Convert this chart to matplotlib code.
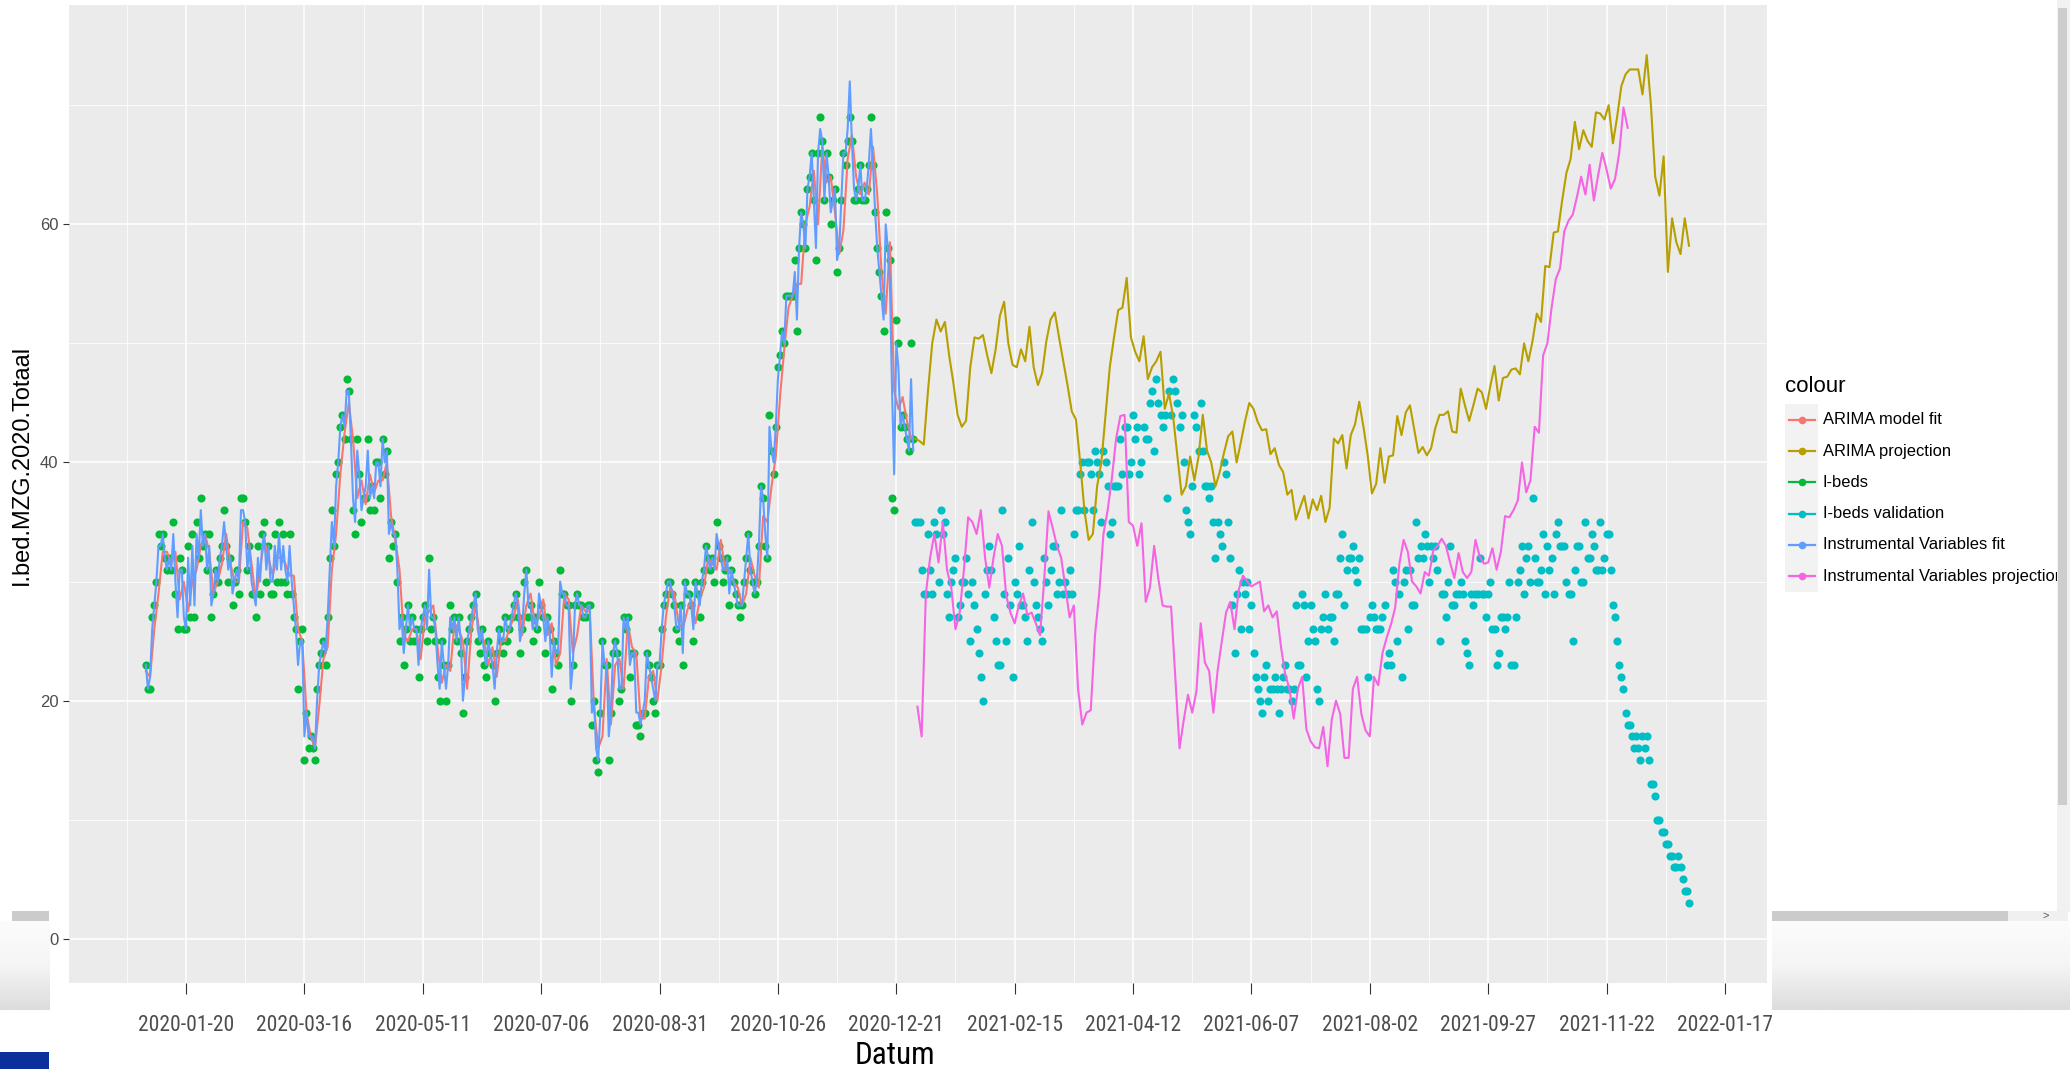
import numpy as np
import pandas as pd
import matplotlib
matplotlib.use('Agg')
import matplotlib.pyplot as plt
import matplotlib.dates as mdates
from matplotlib import font_manager as fm
from matplotlib.patches import Rectangle
from matplotlib.lines import Line2D

# ---------------- data ----------------
series_names = ["ARIMA model fit", "ARIMA projection", "I-beds", "I-beds validation",
                "Instrumental Variables fit", "Instrumental Variables projection"]
series_colors = ["#F8766D", "#B79F00", "#00BA38", "#00BFC4", "#619CFF", "#F564E3"]

tick_labels = ["2020-01-20", "2020-03-16", "2020-05-11", "2020-07-06", "2020-08-31",
               "2020-10-26", "2020-12-21", "2021-02-15", "2021-04-12", "2021-06-07",
               "2021-08-02", "2021-09-27", "2021-11-22", "2022-01-17"]
y_ticks = [0, 20, 40, 60]

ibeds_start = "2020-01-01"   # daily
ibeds = [23,21,21,27,28,30,34,33,34,32, 31,32,31,35,29,26,32,31,26,26,
         33,27,34,27,35,32,37,33,34,31, 34,27,29,31,30,32,33,36,33,30,
         32,28,30,31,29,37,37,35,31,33, 29,29,27,33,29,34,35,30,33,29,
         29,34,30,35,30,34,30,29,34,29, 27,26,21,25,26,15,19,16,17,16,
         15,21,23,24,25,23,27,32,36,33, 39,40,43,44,42,47,46,42,36,34,
         42,39,35,37,37,42,36,38,36,40, 40,37,42,39,41,32,35,33,34,30,
         25,27,23,26,28,25,27,25,26,22, 26,27,28,25,32,26,27,25,22,20,
         25,23,20,23,28,26,27,25,27,24, 19,22,25,26,27,28,29,25,24,26,
         23,22,25,24,23,20,24,26,25,24, 27,25,26,27,28,29,27,24,26,30,
         31,27,28,25,27,26,30,28,27,24, 27,26,21,25,24,23,31,29,29,28,
         28,20,23,28,29,28,28,27,27,28, 28,18,20,15,14,19,25,23,23,15,
         19,24,25,24,20,21,27,26,27,22, 24,24,18,18,17,19,19,24,23,22,
         20,19,23,23,26,28,29,30,30,29, 28,26,25,28,23,30,29,29,28,25,
         30,29,27,30,31,33,32,31,32,30, 35,33,32,30,31,32,28,31,30,29,
         28,27,28,30,32,34,31,30,29,30, 33,38,37,33,32,44,41,39,43,48,
         49,51,50,54,54,54,54,57,51,58, 61,60,58,63,64,66,62,57,66,69,
         67,62,66,64,60,62,63,56,58,62, 66,65,67,69,67,62,62,63,65,62,
         62,63,65,69,65,61,58,56,54,51, 61,58,57,37,36,52,50,43,44,43,
         42,41,50,42]

arima_fit_start = "2020-01-01"   # every 2 days
arima_fit = [22.5,22,26,29,32.5,32.5,31.5,32.5,28.5,30,
             27.5,30,31,33,34,32.5,29,30,31.5,34,
             31.5,30,30,35,34.5,31.5,28.5,31,33.5,32,
             30.5,32,32,31.5,30.5,30.5,26,25,19,17,
             16,19.5,23.5,24.5,31,34,39,42.5,45,42,
             37,38.5,36.5,39,37.5,38.5,38.5,40,35.5,33.5,
             31,25.5,25,26,26,23.5,27,27.5,28,24.5,
             21.5,23,22.5,26.5,26,25,21,26,28,25.5,
             25,23,24.5,22,25,25,26,27,28.5,25.5,
             28,29,26.5,27,28.5,25.5,26.5,23,24,29,
             28.5,24,25.5,28,27.5,27.5,19.5,16,17,23.5,
             18,23,23.5,21,26.5,24.5,24,18.5,18.5,22,
             22.5,20,23,27,29.5,29,26.5,26,27.5,28.5,
             26.5,28.5,29.5,32,31.5,31,33.5,31,31,30,
             29.5,28,29,32,30.5,29.5,35.5,35,38,40.5,
             45.5,49.5,53,54,55,55,60,61.5,64.5,60,
             66.5,63.5,64,61,57.5,59.5,65.5,67.5,64,62.5,
             63.5,62.5,66.5,62.5,56,52.5,58.5,46,44.5,45.5,
             43.5,42]

iv_fit_start = "2020-01-01"   # daily
iv_fit = [23,21,22,26,28,30,33,33,34,32, 31,32,31,34,30,27,31,31,27,26,
          32,28,33,28,34,32,36,33,34,31, 33,28,29,31,30,32,33,35,33,31,
          32,29,30,31,30,36,36,35,31,33, 30,29,28,32,30,33,34,31,33,30,
          30,33,31,34,31,33,31,30,33,30, 28,26,23,25,25,17,19,17,17,17,
          16,20,23,24,25,24,27,31,35,33, 38,40,43,44,43,46,46,42,37,35,
          41,39,36,37,38,41,37,38,37,40, 40,38,42,40,41,34,35,34,34,31,
          26,27,24,26,28,26,27,26,26,23, 26,27,28,26,31,27,27,26,23,21,
          25,23,21,23,27,26,27,25,27,25, 20,22,25,26,27,28,29,26,25,26,
          24,23,25,24,23,21,24,26,25,25, 27,26,26,27,28,29,28,25,26,29,
          31,28,28,26,27,26,29,28,27,25, 27,26,22,25,24,24,30,29,29,28,
          28,21,23,28,29,28,28,27,27,28, 28,19,20,16,15,19,25,23,23,17,
          19,24,25,24,21,21,27,26,27,23, 24,24,19,19,18,19,20,24,23,22,
          21,20,23,23,26,28,29,30,30,29, 28,26,26,28,24,30,29,29,28,26,
          30,29,28,30,31,33,32,31,32,31, 34,33,32,31,31,32,29,31,30,29,
          28,28,28,30,32,34,31,30,29,30, 33,38,37,34,32,43,41,40,43,47,
          49,51,50,54,54,54,54,56,52,58, 61,60,58,63,64,66,62,58,66,68,
          67,62,66,64,61,62,63,57,58,62, 66,66,68,72,67,63,62,63,65,62,
          62,63,65,68,65,61,58,56,54,52, 60,58,55,46,39,50,48,43,44,43,
          42,41,47,41]

arima_proj_start = "2020-12-30"   # every 2 days
arima_proj = [42,41.8,41.5,46,50,52,51,51.8,49,46.7,
              44,43,43.5,48,50.5,50.4,50.7,49,47.5,49.5,
              52.3,53.5,50,48.2,48,49.5,48.5,51.4,48,46.5,
              47.5,50.2,52,52.6,50.5,48.5,46.5,44.3,43.6,40,
              36,33.5,34,38,40,44,48,50.5,52.8,53,
              55.5,50.5,49.3,48.5,50.6,47,48,48.5,49.3,44.5,
              45.8,43.8,40.5,37.3,38,40.5,38.5,40.5,44,41,
              40,38,39.2,40.8,42.2,42.6,40,41.7,43.5,45,
              44.5,43.4,42.7,42.8,40.7,41.2,39.8,39.2,37.3,37.7,
              35.2,36.2,37.2,35.3,36.9,36,37.2,35,36.2,42,
              41.6,42.3,39.5,42.3,43.2,45.1,43,40.6,37.4,38.2,
              41.2,38.3,40.5,40.6,43.9,42.3,44.2,44.8,42.8,40.8,
              41.3,40.6,41.2,42.9,44,44,44.3,42.6,42.5,46.2,
              44.8,43.5,44.8,46.2,45.9,44.5,46.4,48.1,45.2,47.1,
              47.2,47.8,47.9,47.4,50,48.5,50.2,52.5,51.8,56.5,
              56.4,59.3,59.4,62,64.3,65.5,68.6,66.3,67.9,67,
              66.5,69.4,69.3,68.8,70,66.8,69,71.6,72.6,73,
              73,73,70.9,74.2,70,64,62.4,65.7,56,60.5,
              58.5,57.5,60.5,58.2]

validation_start = "2020-12-30"   # daily
validation = [35,35,35,31,29,29,34,31,29,35, 34,30,36,34,35,29,27,30,31,32,
              27,28,30,30,32,29,25,30,28,26, 24,22,20,29,31,33,31,27,25,23,
              23,36,29,25,32,28,22,30,29,33, 28,28,27,25,31,35,30,28,27,26,
              25,32,30,28,31,33,33,29,30,36, 29,30,29,31,29,34,36,36,39,40,
              36,40,40,39,36,41,40,39,35,41, 40,38,34,35,38,38,38,42,39,43,
              43,39,40,44,42,43,39,40,43,42, 42,45,46,41,47,45,44,43,44,37,
              46,44,47,46,45,43,44,40,36,35, 34,38,44,43,41,45,41,38,38,37,
              38,35,32,35,34,33,40,39,35,32, 28,24,29,31,26,30,29,30,26,28,
              24,22,21,20,19,22,23,20,21,21, 22,21,19,21,22,23,21,21,20,21,
              28,23,23,29,28,22,25,28,26,25, 21,20,26,27,29,26,27,27,25,29,
              29,32,34,28,31,32,32,33,31,30, 32,26,26,26,22,27,28,27,26,26,
              26,27,28,23,24,23,31,30,25,29, 22,30,31,26,31,28,28,35,32,33,
              32,34,33,30,33,32,33,31,25,29, 29,27,30,33,28,28,29,29,30,29,
              25,24,23,29,28,29,29,32,29,29, 27,29,30,26,26,23,24,27,27,26,
              27,30,23,23,27,30,31,33,29,32, 33,30,37,32,30,30,31,34,29,33,
              31,32,29,34,35,33,33,33,30,29, 29,25,31,33,33,30,30,35,32,32,
              34,33,31,31,35,31,32,34,34,31, 28,27,25,23,22,21,19,18,18,17,
              16,17,16,15,17,16,17,15,13,13, 12,10,10,9,9,8,8,7,7,6,
              6,7,6,5,4,4,3]

iv_proj_start = "2020-12-31"   # every 2 days
iv_proj = [19.5,17,29,32,34,31.6,35,31,29.5,26,
           27.4,31,35.4,35,34,36,32,29.5,32,34,
           33,28.8,27.4,26.5,28,29,27.2,27.4,26.5,25.5,
           30.2,35.9,34.5,33,32,29.5,27,28,21,18,
           19,19.2,25.5,29,34,36,38.7,42,43.9,44,
           35,34.7,33,34.9,28.3,29.5,33,30.2,28,27.9,
           27.9,22,16,18.4,20.5,19,20.8,26.5,23.2,22.5,
           19,22.5,25,27.4,28.3,26,29.3,30.5,30,29.6,
           29.8,30,27.5,28,27,27.5,24.5,22.2,21,18.5,
           21,22,17.6,16.6,16.1,16,17.8,14.5,18.4,20,
           18.9,15.2,15.2,21,22,18.9,17.5,17,22,21.3,
           24,25.3,26.4,27.8,31.5,33.5,32.5,30,29.6,29,
           30.8,30.5,32.6,33,33.6,33,31.6,30.3,32.4,30.8,
           30.3,30.8,33.5,32.1,31.5,31.6,32.8,31,32.5,35.5,
           35.4,36,36.8,40,37.5,38.5,43,42.5,49,50,
           53,55.4,56.3,59.4,60.3,60.8,62.3,64,62.5,65,
           62,64.1,66,64.6,63,63.8,66,69.8,68.1]

# ---------------- fonts ----------------
SANS = ["Liberation Sans", "DejaVu Sans"]


def pick_narrow():
    prefs = ["liberation sans narrow", "arial narrow", "nimbus sans narrow",
             "roboto condensed", "noto sans", "open sans", "dejavu sans"]
    best = None
    for e in fm.fontManager.ttflist:
        nm = e.name.lower()
        if e.style != "normal" or str(e.weight) not in ("400", "normal", "regular", "book"):
            continue
        st = str(e.stretch).lower()
        fn = e.fname.lower()
        narrow = ("narrow" in nm or "condensed" in nm or st in ("condensed", "semi-condensed")
                  or ("condensed" in fn and "semicondensed" not in fn and "extra" not in fn))
        if not narrow or "extra" in st or "ultra" in st:
            continue
        rank = len(prefs)
        for i, p in enumerate(prefs):
            if nm.startswith(p):
                rank = i
                break
        if best is None or rank < best[0]:
            best = (rank, e.fname)
    return best[1] if best else None


narrow_file = pick_narrow()


def narrow_fp(size, fallback_size):
    if narrow_file:
        return fm.FontProperties(fname=narrow_file, size=size)
    return fm.FontProperties(family=SANS, size=fallback_size)


# ---------------- figure ----------------
W, H, DPI = 2070, 1069, 100
fig = plt.figure(figsize=(W / DPI, H / DPI), dpi=DPI, facecolor="white")


def fx(px):
    return px / W


def fy(py):
    return 1 - py / H


ax = fig.add_axes([fx(69), fy(983), fx(1767) - fx(69), fy(5) - fy(983)])
ax.set_facecolor("#EBEBEB")
for s in ax.spines.values():
    s.set_visible(False)

d_ib = pd.date_range(ibeds_start, periods=len(ibeds), freq="D").values
d_af = pd.date_range(arima_fit_start, periods=len(arima_fit), freq="2D").values
d_iv = pd.date_range(iv_fit_start, periods=len(iv_fit), freq="D").values
d_ap = pd.date_range(arima_proj_start, periods=len(arima_proj), freq="2D").values
d_va = pd.date_range(validation_start, periods=len(validation), freq="D").values
d_ip = pd.date_range(iv_proj_start, periods=len(iv_proj), freq="2D").values

c = dict(zip(series_names, series_colors))
LW = 1.5
ax.scatter(d_ib, ibeds, s=34, color=c["I-beds"], linewidths=0, zorder=3)
ax.scatter(d_va, validation, s=34, color=c["I-beds validation"], linewidths=0, zorder=3)
ax.plot(d_af, arima_fit, color=c["ARIMA model fit"], lw=LW, zorder=4)
ax.plot(d_iv, iv_fit, color=c["Instrumental Variables fit"], lw=LW, zorder=5)
ax.plot(d_ap, arima_proj, color=c["ARIMA projection"], lw=LW, zorder=4)
ax.plot(d_ip, iv_proj, color=c["Instrumental Variables projection"], lw=LW, zorder=4)

ref = mdates.date2num(np.datetime64("2020-01-20"))
ax.set_xlim(ref - 55.35, ref + 747.9)
ax.set_ylim(-3.7, 78.41)

major = pd.to_datetime(tick_labels).values
minor = (pd.to_datetime(tick_labels) - pd.Timedelta(days=28)).values
ax.set_xticks(major)
ax.set_xticklabels(tick_labels)
ax.set_xticks(minor, minor=True)
ax.set_yticks(y_ticks)
ax.set_yticklabels([str(v) for v in y_ticks])
ax.set_yticks([10, 30, 50, 70], minor=True)
ax.set_axisbelow(True)
ax.grid(which="major", color="white", lw=1.1)
ax.grid(which="minor", color="white", lw=0.55)
ax.tick_params(axis="x", which="major", length=8, width=0.8, color="#333333",
               pad=15, labelcolor="#4D4D4D")
ax.tick_params(axis="y", which="major", length=4.5, width=0.8, color="#333333",
               pad=3, labelsize=12, labelcolor="#4D4D4D")
ax.tick_params(which="minor", length=0)
for lbl in ax.get_xticklabels():
    lbl.set_fontproperties(narrow_fp(15.5, 12.5))
for lbl in ax.get_yticklabels():
    lbl.set_fontfamily(SANS)

fig.text(fx(22), fy(465), "I.bed.MZG.2020.Totaal", rotation=90, ha="center", va="center",
         fontsize=17, family=SANS, color="black")
fig.text(fx(895), fy(1056), "Datum", ha="center", va="center",
         fontproperties=narrow_fp(22.5, 19.5), color="black")

# ---------------- legend (ggplot style) ----------------
fig.text(fx(1785), fy(386), "colour", ha="left", va="center", fontsize=16, family=SANS)
for k, (name, col) in enumerate(zip(series_names, series_colors)):
    yc = 420 + 31.2 * k
    fig.add_artist(Rectangle((fx(1785), fy(yc + 15.6)), fx(33), 31.2 / H,
                             transform=fig.transFigure, fc="#F2F2F2", ec="none", zorder=1))
    fig.add_artist(Line2D([fx(1789), fx(1815)], [fy(yc), fy(yc)], color=col, lw=1.6,
                          transform=fig.transFigure, zorder=2))
    fig.add_artist(Line2D([fx(1802)], [fy(yc)], color=col, marker="o", ms=5.5,
                          markeredgewidth=0, transform=fig.transFigure, zorder=2))
    fig.text(fx(1823), fy(yc), name, ha="left", va="center", fontsize=11.85, family=SANS)

# ---------------- screenshot frame artefacts ----------------
def rect(x0, y0, x1, y1, color, z=10):
    fig.add_artist(Rectangle((fx(x0), fy(y1)), fx(x1 - x0), (y1 - y0) / H,
                             transform=fig.transFigure, fc=color, ec="none", zorder=z))

rect(2057, 0, 2070, 912, "#F1F1F1")
rect(2058, 8, 2067, 805, "#CDCDCD", 11)
rect(12, 911, 49, 921, "#CBCBCB")
rect(1772, 911, 2008, 921, "#CBCBCB")
rect(2008, 911, 2068, 921, "#F0F0F0")
fig.text(fx(2046), fy(916), ">", ha="center", va="center", fontsize=8, color="#555555",
         family=SANS, zorder=12)
grad = np.linspace(0, 1, 50).reshape(-1, 1)
for x0, x1 in [(0, 49), (1772, 2070)]:
    gax = fig.add_axes([fx(x0), fy(1010), fx(x1 - x0), (1010 - 921) / H], zorder=10)
    gax.imshow(grad, aspect="auto", cmap=matplotlib.colors.LinearSegmentedColormap.from_list(
        "g", ["#FCFCFC", "#F5F5F5", "#DDDDDD"]), extent=[0, 1, 0, 1])
    gax.axis("off")
rect(0, 1052, 49, 1069, "#0B2F9C")

fig.savefig("out.png", dpi=DPI, facecolor="white")
